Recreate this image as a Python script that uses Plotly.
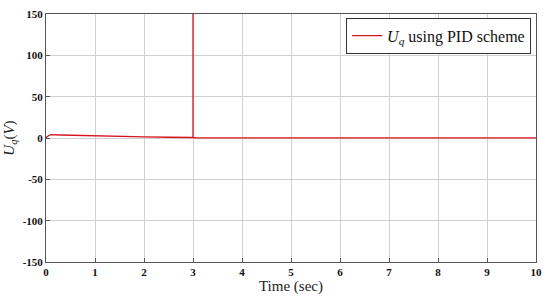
import plotly.graph_objects as go

# Uq response (PID scheme)
time_s = [0, 0.02, 0.06, 0.1, 0.3, 0.6, 1.0, 1.5, 2.0, 2.5, 2.98, 3.0, 3.0, 3.0, 3.05,
          3.5, 4.0, 4.5, 5.0, 6.0, 7.0, 8.0, 9.0, 10.0]
uq_volts = [0, 1.5, 3.0, 4.0, 3.6, 3.1, 2.5, 1.9, 1.3, 0.9, 0.6, 0.6, 400, 0.4, 0.3,
            0.4, 0.3, 0.3, 0.2, 0.2, 0.2, 0.2, 0.2, 0.2]

x_ticks = [0, 1, 2, 3, 4, 5, 6, 7, 8, 9, 10]
x_labels = ["0", "1", "2", "3", "4", "5", "6", "7", "8", "9", "10"]
y_ticks = [-150, -100, -50, 0, 50, 100, 150]
y_labels = ["-150", "-100", "-50", "0", "50", "100", "150"]

fig = go.Figure()

fig.add_trace(
    go.Scatter(
        x=time_s,
        y=uq_volts,
        mode="lines",
        name="<i>U<sub>q</sub></i> using PID scheme",
        line=dict(color="#d7141e", width=1.3),
    )
)

axis_common = dict(
    showgrid=True,
    gridcolor="#d0d0d0",
    gridwidth=1,
    zeroline=False,
    showline=True,
    linecolor="#555555",
    linewidth=1,
    mirror=True,
    ticks="inside",
    ticklen=4,
    tickcolor="#555555",
    tickfont=dict(family="Liberation Serif, serif", size=11, color="#111111"),
)

fig.update_layout(
    width=550,
    height=299,
    margin=dict(l=46, r=10, t=8, b=37),
    paper_bgcolor="white",
    plot_bgcolor="white",
    font=dict(family="Liberation Serif, serif"),
    showlegend=True,
    legend=dict(
        x=0.99,
        y=0.985,
        xanchor="right",
        yanchor="top",
        bgcolor="white",
        bordercolor="#333333",
        borderwidth=1,
        font=dict(family="Liberation Serif, serif", size=16, color="#111111"),
        itemwidth=30,
        tracegroupgap=0,
    ),
    xaxis=dict(
        range=[0, 10],
        tickvals=x_ticks,
        ticktext=[f"<b>{t}</b>" for t in x_labels],
        title=dict(text="Time (sec)", font=dict(family="Liberation Serif, serif", size=15, color="#222222"), standoff=2),
        **axis_common,
    ),
    yaxis=dict(
        range=[-150, 150],
        tickvals=y_ticks,
        ticktext=[f"<b>{t}</b>" for t in y_labels],
        title=dict(text="<i>U<sub>q</sub></i>(<i>V</i>)", font=dict(family="Liberation Serif, serif", size=15, color="#222222"), standoff=4),
        **axis_common,
    ),
)

fig.write_html(
    "out.html",
    config={"displayModeBar": False},
    post_script="document.body.style.margin='0';",
)
